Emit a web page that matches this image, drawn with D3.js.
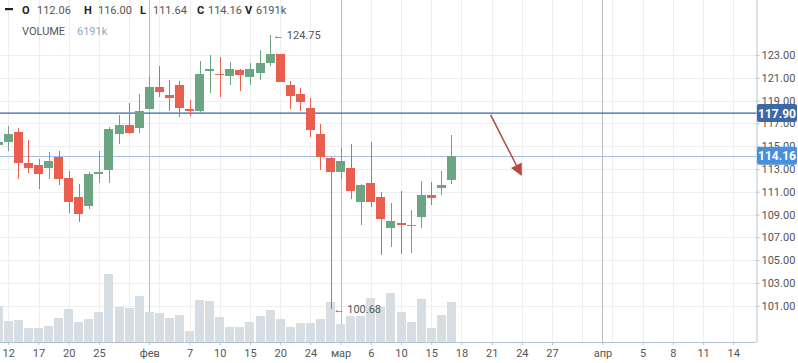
<!DOCTYPE html>
<html><head><meta charset="utf-8">
<script src="https://cdn.jsdelivr.net/npm/d3@7/dist/d3.min.js"></script>
<style>html,body{margin:0;padding:0;background:#fff;}svg{display:block;font-family:Roboto,"Liberation Sans",Arial,sans-serif;}</style>
</head><body>
<svg id="c" width="798" height="363"></svg>
<script>
// ---- data (slot -1 .. 44) ----
const opens  = [115.11,115.40,116.22,113.53,113.35,113.12,114.03,112.21,110.54,109.78,112.62,112.94,116.11,116.87,116.63,118.30,120.20,119.50,120.38,118.30,118.12,121.63,121.37,121.19,121.67,121.11,121.46,122.33,123.10,120.38,119.59,118.33,116.10,113.99,112.76,113.09,110.13,111.77,110.54,107.85,108.22,108.05,108.81,110.72,111.36,112.06];
const highs  = [115.60,116.78,116.60,115.55,113.85,114.49,114.58,112.83,111.68,112.74,114.58,116.66,117.74,118.80,119.59,121.05,122.07,120.82,120.73,119.06,122.48,123.01,122.86,122.37,121.75,122.28,123.45,124.75,123.12,120.75,120.09,119.21,116.95,114.05,114.82,115.20,111.65,115.35,111.01,109.99,111.10,109.40,111.97,111.86,112.85,116.00];
const lows   = [114.90,114.61,112.15,112.68,111.27,112.15,111.62,109.17,108.37,109.52,111.80,111.80,115.22,116.11,116.14,118.28,119.32,118.12,117.59,117.68,117.86,119.65,119.30,120.38,119.88,120.38,120.82,122.07,120.60,118.27,118.12,115.84,112.91,100.68,112.12,110.39,108.09,109.69,105.48,106.18,105.57,105.65,107.85,109.87,110.75,111.64];
const closes = [115.40,116.07,113.55,113.12,112.59,113.70,112.15,110.13,109.08,112.56,112.70,116.51,116.87,116.19,118.09,120.20,119.76,119.26,118.38,118.12,121.34,121.78,121.28,121.78,121.28,121.78,122.33,123.10,120.67,119.44,118.91,116.45,114.08,112.76,113.70,111.10,111.60,110.13,108.64,108.44,108.12,108.12,110.72,110.48,111.60,114.16];
const volumes = [5616,3230,3385,2137,2137,2450,3697,5101,3073,3541,4633,10561,5413,5257,7129,4633,4477,3697,4165,1669,6505,6349,3853,2293,2293,3073,4009,4945,3541,2293,2917,2917,3541,6193,2761,4009,4009,6817,5413,7597,4633,3073,6661,2137,4165,6191];
const slots = opens.map((_, i) => i - 1);

const xTickSlots  = [0,3,6,9,14,18,21,24,27,30,33,36,39,42,45,48,51,54,59,63,66,69,72];
const xTickLabels = ["12","17","20","25","фев","7","10","15","20","24","мар","6","10","15","18","21","24","27","апр","5","8","11","14"];
const monthSlots  = [14,33,59];
const gridSlots   = [0,3,6,9,12,15,18,21,24,27,30,33,36,39,42,45,48,51,54,57,60,63,66,69,72];
const yTicks = [101,103,105,107,109,111,113,115,117,119,121,123];
const priceLines = [117.90, 114.16];
const hiMark = {slot: 26, value: 124.75};
const loMark = {slot: 32, value: 100.68};
const arrowPts = [[47.9, 117.74], [51.0, 112.39]];
const legendVals = {O: "112.06", H: "116.00", L: "111.64", C: "114.16", V: "6191k"};

// ---- layout ----
const svg = d3.select("#c");
const plotR = 756.5, plotB = 342;
const x = d3.scaleLinear().domain([0, 72]).range([8.3, 733.3]);
const y = d3.scaleLinear().domain([101, 123]).range([305.7, 55]);
const yv = d3.scaleLinear().domain([0, 10000]).range([plotB, plotB - 64.1]);
const up = "#6ba583", dn = "#ea5e4f";

// grid
const g = svg.append("g").attr("shape-rendering","crispEdges");
g.selectAll(".hg").data(yTicks).join("line")
  .attr("x1",0).attr("x2",plotR).attr("y1",d=>Math.round(y(d))+0.5).attr("y2",d=>Math.round(y(d))+0.5)
  .attr("stroke","#eeeeee");
g.selectAll(".vg").data(gridSlots).join("line")
  .attr("x1",d=>Math.round(x(d))+0.5).attr("x2",d=>Math.round(x(d))+0.5).attr("y1",0).attr("y2",plotB)
  .attr("stroke","#eeeeee");
g.selectAll(".mg").data(monthSlots).join("line")
  .attr("x1",d=>Math.round(x(d))+0.5).attr("x2",d=>Math.round(x(d))+0.5).attr("y1",0).attr("y2",plotB)
  .attr("stroke","#bdbdbd");

// volume bars
const vb = svg.append("g").attr("shape-rendering","crispEdges");
vb.selectAll("rect").data(slots).join("rect")
  .attr("x",d=>Math.round(x(d)-4.5)).attr("width",9)
  .attr("y",(d,i)=>Math.round(yv(volumes[i]))).attr("height",(d,i)=>plotB-Math.round(yv(volumes[i])))
  .attr("fill","#d6dde3");

// price lines
const pl = svg.append("g");
pl.append("line").attr("x1",0).attr("x2",plotR).attr("y1",y(priceLines[0])).attr("y2",y(priceLines[0]))
  .attr("stroke","#2e64b4").attr("stroke-width",1.4);
pl.append("line").attr("x1",0).attr("x2",plotR).attr("y1",Math.round(y(priceLines[1]))+0.5).attr("y2",Math.round(y(priceLines[1]))+0.5)
  .attr("stroke","#a3bde3").attr("stroke-width",1).attr("shape-rendering","crispEdges");

// candles
const cg = svg.append("g").attr("shape-rendering","crispEdges");
cg.selectAll(".w").data(slots).join("rect")
  .attr("x",d=>Math.round(x(d))).attr("width",1)
  .attr("y",(d,i)=>y(highs[i])).attr("height",(d,i)=>y(lows[i])-y(highs[i]))
  .attr("fill",(d,i)=>closes[i]>=opens[i]?up:dn);
cg.selectAll(".b").data(slots).join("rect")
  .attr("x",d=>Math.round(x(d)-4.5)).attr("width",9)
  .attr("y",(d,i)=>y(Math.max(opens[i],closes[i])))
  .attr("height",(d,i)=>Math.max(1.2, Math.abs(y(opens[i])-y(closes[i]))))
  .attr("fill",(d,i)=>closes[i]>=opens[i]?up:dn);

// arrow drawing
const a0 = [x(arrowPts[0][0]), y(arrowPts[0][1])], a1 = [x(arrowPts[1][0]), y(arrowPts[1][1])];
const ang = Math.atan2(a1[1]-a0[1], a1[0]-a0[0]);
const hl = 12, hw = 6;
const bx = a1[0]-hl*Math.cos(ang), by = a1[1]-hl*Math.sin(ang);
svg.append("line").attr("x1",a0[0]).attr("y1",a0[1]).attr("x2",bx).attr("y2",by)
  .attr("stroke","#b8473f").attr("stroke-width",1.5);
svg.append("path").attr("fill","#b8473f")
  .attr("d",`M${a1[0]},${a1[1]}L${bx+hw*Math.sin(ang)},${by-hw*Math.cos(ang)}L${bx-hw*Math.sin(ang)},${by+hw*Math.cos(ang)}Z`);

// hi/lo marks
svg.append("text").attr("x",x(hiMark.slot)+3).attr("y",y(hiMark.value)+4).attr("font-size",11).attr("fill","#555")
  .text("← " + hiMark.value.toFixed(2));
svg.append("text").attr("x",x(loMark.slot)+3).attr("y",y(loMark.value)+4).attr("font-size",11).attr("fill","#555")
  .text("← " + loMark.value.toFixed(2));

// axes
const ax = svg.append("g").attr("transform",`translate(${plotR},0)`)
  .call(d3.axisRight(y).tickValues(yTicks).tickFormat(d3.format(".2f")).tickSize(3).tickPadding(2));
ax.select(".domain").attr("d",`M0.5,0V${plotB}`).attr("stroke","#b2c3d3");
ax.selectAll(".tick line").attr("stroke","#b2c3d3");
ax.selectAll("text").attr("font-size",11).attr("fill","#555").attr("font-family","Roboto, sans-serif");

const bx2 = svg.append("g").attr("transform",`translate(0,${plotB})`)
  .call(d3.axisBottom(x).tickValues(xTickSlots).tickFormat((d,i)=>xTickLabels[i]).tickSize(3).tickPadding(4));
bx2.select(".domain").attr("d",`M0,0.5H${plotR}`).attr("stroke","#b2c3d3");
bx2.selectAll(".tick line").attr("stroke","#b2c3d3");
bx2.selectAll("text").attr("font-size",11).attr("fill","#555").attr("font-family","Roboto, sans-serif");

// price labels boxes
const boxes = [{v: priceLines[0], c:"#3d68a6"}, {v: priceLines[1], c:"#4a8fdc"}];
boxes.forEach(b => {
  const yy = y(b.v);
  svg.append("rect").attr("x",plotR+0.5).attr("y",yy-9).attr("width",40).attr("height",18).attr("rx",2).attr("fill",b.c);
  svg.append("text").attr("x",plotR+20.5).attr("y",yy+4.5).attr("text-anchor","middle").attr("font-size",12).attr("font-weight","bold")
    .attr("fill","#fff").text(b.v.toFixed(2));
});

// legend
const lg = svg.append("g").attr("font-size",11);
lg.append("rect").attr("x",5).attr("y",8).attr("width",8).attr("height",2.2).attr("fill","#222");
const items = [["O",22,37],["H",84,98],["L",140,153],["C",197,208],["V",245,256]];
items.forEach(([k,xl,xv]) => {
  lg.append("text").attr("x",xl).attr("y",14).attr("font-weight","bold").attr("fill","#222").text(k);
  lg.append("text").attr("x",xv).attr("y",14).attr("fill","#555").text(legendVals[k]);
});
lg.append("text").attr("x",22).attr("y",35).attr("fill","#555").text("VOLUME");
lg.append("text").attr("x",77).attr("y",35).attr("fill","#92a8c6").text(legendVals.V);
</script>
</body></html>
